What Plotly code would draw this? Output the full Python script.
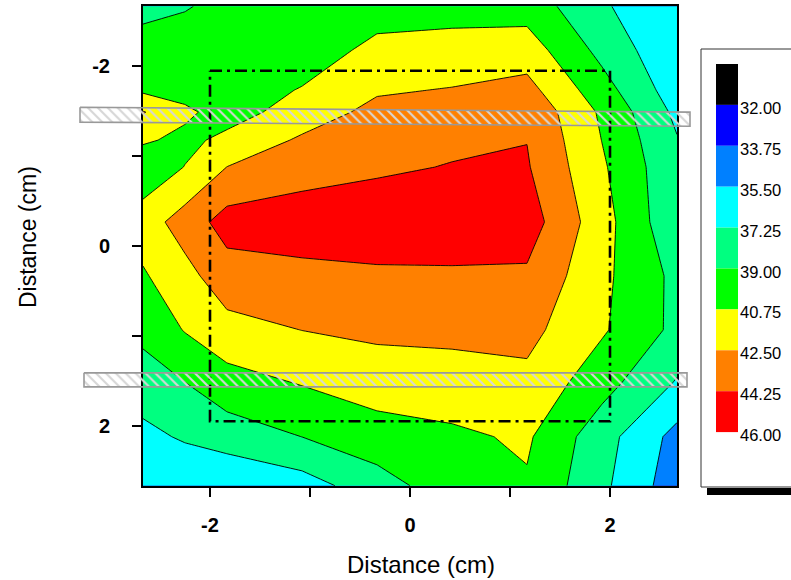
import plotly.graph_objects as go

W, H = 791, 580
FONT = "Liberation Sans, Arial, sans-serif"

# ---------------- data (grid) ----------------
X = [-2.67, -2.25, -1.83, -1.08, -0.33, 0.42, 1.17, 1.92, 2.67]
Y = [-2.667, -2.178, -1.733, -1.489, -1.178, -0.878, -0.267, 0.333, 0.933, 1.522, 2.122, 2.667]
Z = [
    [38.55, 38.90, 39.40, 39.80, 40.00, 40.20, 40.00, 37.50, 35.60],
    [39.66, 39.70, 39.75, 39.85, 41.20, 41.30, 41.63, 38.49, 35.80],
    [40.46, 40.10, 39.90, 40.85, 42.30, 42.60, 43.09, 39.72, 36.30],
    [42.60, 41.10, 40.00, 41.56, 43.00, 43.50, 43.90, 40.47, 36.85],
    [41.00, 40.30, 41.20, 42.75, 43.50, 43.92, 44.22, 40.72, 37.35],
    [39.50, 40.80, 42.52, 43.50, 43.98, 44.33, 44.40, 41.00, 37.60],
    [41.64, 43.28, 44.95, 45.20, 45.30, 45.40, 45.10, 41.46, 37.60],
    [40.55, 41.94, 43.50, 43.77, 43.97, 43.98, 43.99, 41.16, 38.55],
    [39.45, 40.85, 41.90, 42.52, 42.87, 42.93, 43.00, 40.97, 38.56],
    [38.20, 38.98, 40.06, 40.85, 41.53, 41.75, 42.08, 39.68, 37.10],
    [36.77, 37.47, 38.09, 39.01, 40.03, 40.43, 41.00, 37.96, 34.93],
    [35.80, 35.70, 35.67, 36.48, 38.23, 39.98, 40.56, 37.64, 34.50],
]

LEVELS = [32.00, 33.75, 35.50, 37.25, 39.00, 40.75, 42.50, 44.25, 46.00]
BAND_COLORS = ["#000000", "#0000ff", "#0080ff", "#00ffff", "#00ff80",
               "#00ff00", "#ffff00", "#ff8000", "#ff0000"]

TICKS = [-2, 0, 2]
TICK_TEXT = ["-2", "0", "2"]
MINOR_TICKS = [-1, 1]
X_RANGE = [-2.67, 2.67]
Y_RANGE = [2.67, -2.67]          # reversed: negative at top

# dash-dot frame (cm)
FRAME_X = [-2.0, 2.0]
FRAME_Y = [-1.95, 1.95]
# hatched bars (cm)
BAR1_X = [-3.30, 2.80, 2.80, -3.30, -3.30]
BAR1_Y = [-1.544, -1.489, -1.333, -1.378, -1.544]
BAR2_X = [-3.26, 2.77, 2.77, -3.26, -3.26]
BAR2_Y = [1.411, 1.411, 1.567, 1.567, 1.411]

# ---------------- layout geometry (pixels) ----------------
PL, PR, PT, PB = 143, 677, 6, 486
xdom = [PL / W, PR / W]
ydom = [1 - PB / H, 1 - PT / H]

sx = (X_RANGE[1] - X_RANGE[0]) / (PR - PL)
sy = (Y_RANGE[0] - Y_RANGE[1]) / (PB - PT)
x2_range = [X_RANGE[0] - PL * sx, X_RANGE[1] + (W - PR) * sx]
y2_range = [Y_RANGE[0] + (H - PB) * sy, Y_RANGE[1] - PT * sy]

n = len(BAND_COLORS)
colorscale = [[k / n, c] for k, c in enumerate(BAND_COLORS)] + [[1.0, BAND_COLORS[-1]]]

fig = go.Figure()
fig.add_trace(go.Contour(
    x=X, y=Y, z=Z,
    autocontour=False,
    contours=dict(start=LEVELS[0], end=LEVELS[-1], size=LEVELS[1] - LEVELS[0],
                  coloring="fill", showlines=True),
    line=dict(color="black", width=0.9, smoothing=0),
    colorscale=colorscale, showscale=False, hoverinfo="skip",
    xaxis="x", yaxis="y",
))

# dash-dot frame
fig.add_trace(go.Scatter(
    x=[FRAME_X[0], FRAME_X[1], FRAME_X[1], FRAME_X[0], FRAME_X[0]],
    y=[FRAME_Y[0], FRAME_Y[0], FRAME_Y[1], FRAME_Y[1], FRAME_Y[0]],
    mode="lines", line=dict(color="black", width=2.6, dash="12px,5px,3px,5px"),
    hoverinfo="skip", showlegend=False, xaxis="x", yaxis="y",
))

# hatched bars on a full-page overlay axis pair
for bx, by in [(BAR1_X, BAR1_Y), (BAR2_X, BAR2_Y)]:
    fig.add_trace(go.Scatter(
        x=bx, y=by, mode="lines", fill="toself",
        fillcolor="rgba(0,0,0,0)",
        fillpattern=dict(shape="\\", fgcolor="#d6d6d6", bgcolor="rgba(0,0,0,0)",
                         size=7, solidity=0.3, fgopacity=1),
        line=dict(color="#999999", width=1.6),
        hoverinfo="skip", showlegend=False, xaxis="x2", yaxis="y2",
    ))

axis_common = dict(
    showline=True, mirror=True, linecolor="black", linewidth=2,
    showgrid=False, zeroline=False,
    ticks="outside", ticklen=9, tickwidth=2, tickcolor="black",
    tickvals=TICKS, ticktext=TICK_TEXT,
    tickfont=dict(family=FONT, size=20, color="black", weight="bold"),
    minor=dict(tickvals=MINOR_TICKS, ticks="outside", ticklen=9, tickwidth=2, tickcolor="black"),
)

fig.update_layout(
    width=W, height=H,
    margin=dict(l=0, r=0, t=0, b=0),
    paper_bgcolor="white", plot_bgcolor="rgba(0,0,0,0)",
    showlegend=False,
    font=dict(family=FONT, color="black"),
    xaxis=dict(domain=xdom, range=X_RANGE, anchor="y", ticklabelstandoff=11, **axis_common),
    yaxis=dict(domain=ydom, range=Y_RANGE, anchor="x", ticklabelstandoff=18, **axis_common),
    xaxis2=dict(domain=[0, 1], range=x2_range, anchor="y2", visible=False, fixedrange=True),
    yaxis2=dict(domain=[0, 1], range=y2_range, anchor="x2", visible=False, fixedrange=True),
)

shapes = []
annotations = []
# legend box + shadow
shapes.append(dict(type="rect", xref="paper", yref="paper",
                   x0=707 / W, x1=(W + 4) / W, y0=1 - 495 / H, y1=1 - 488 / H,
                   fillcolor="black", line=dict(width=0)))
shapes.append(dict(type="rect", xref="paper", yref="paper",
                   x0=701 / W, x1=(W + 4) / W, y0=1 - 487 / H, y1=1 - 49 / H,
                   fillcolor="white", line=dict(color="#333333", width=1)))
SW_X0, SW_X1, SW_TOP, SW_H = 716, 738, 64, 40.9
for k, c in enumerate(BAND_COLORS):
    top = SW_TOP + SW_H * k
    shapes.append(dict(type="rect", xref="paper", yref="paper",
                       x0=SW_X0 / W, x1=SW_X1 / W, y0=1 - (top + SW_H) / H, y1=1 - top / H,
                       fillcolor=c, line=dict(width=0)))
for k, v in enumerate(LEVELS):
    py = SW_TOP + SW_H * (k + 1) + 3
    annotations.append(dict(xref="paper", yref="paper", x=738 / W, y=1 - py / H,
                            xanchor="left", yanchor="middle", showarrow=False,
                            text=f"{v:.2f}", font=dict(family=FONT, size=16.5, color="black")))

annotations.append(dict(xref="paper", yref="paper", x=421 / W, y=1 - 564 / H,
                        xanchor="center", yanchor="middle", showarrow=False,
                        text="Distance (cm)", font=dict(family=FONT, size=24, color="black")))
annotations.append(dict(xref="paper", yref="paper", x=28 / W, y=1 - 237 / H,
                        xanchor="center", yanchor="middle", showarrow=False, textangle=-90,
                        text="Distance (cm)", font=dict(family=FONT, size=23, color="black")))

fig.update_layout(shapes=shapes, annotations=annotations)
fig.write_html("out.html", config={"displayModeBar": False},
               post_script="document.body.style.margin='0';")
